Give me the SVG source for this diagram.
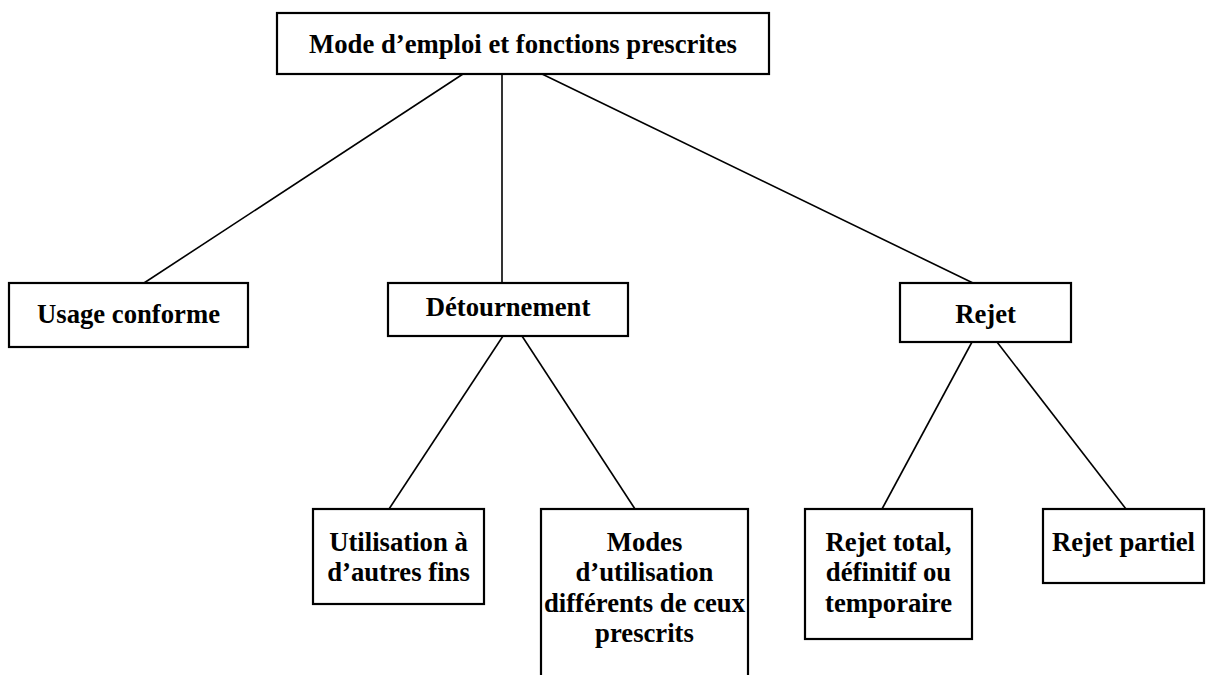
<svg xmlns="http://www.w3.org/2000/svg" width="1211" height="675" viewBox="0 0 1211 675">
<style>
.box{fill:#fff;stroke:#000;stroke-width:2.2}
.lbl{font-family:"Liberation Serif","Times New Roman",serif;font-weight:bold;font-size:26.7px;fill:#000;text-anchor:middle}
.conn line{stroke:#000;stroke-width:1.6}
</style>
<rect width="1211" height="675" fill="#fff"/>
<g class="conn" id="connectors">
<line x1="463" y1="74" x2="144" y2="283"/>
<line x1="502" y1="74" x2="502" y2="283"/>
<line x1="542" y1="74" x2="973" y2="283"/>
<line x1="503" y1="336" x2="389" y2="509"/>
<line x1="522" y1="336" x2="635" y2="509"/>
<line x1="972" y1="342" x2="882" y2="509"/>
<line x1="997" y1="342" x2="1126" y2="509"/>
</g>
<g id="root">
<rect class="box" x="277" y="13" width="492" height="61"/>
<text class="lbl" x="523" y="53">Mode d’emploi et fonctions prescrites</text>
</g>
<g id="usage">
<rect class="box" x="9" y="283" width="239" height="64"/>
<text class="lbl" x="128.5" y="323">Usage conforme</text>
</g>
<g id="detournement">
<rect class="box" x="388" y="283" width="240" height="53"/>
<text class="lbl" x="508" y="316">Détournement</text>
</g>
<g id="rejet">
<rect class="box" x="900" y="283" width="171" height="59"/>
<text class="lbl" x="985.5" y="323">Rejet</text>
</g>
<g id="utilisation">
<rect class="box" x="313" y="509" width="171" height="95"/>
<text class="lbl" x="398.5" y="551">Utilisation à</text>
<text class="lbl" x="398.5" y="581">d’autres fins</text>
</g>
<g id="modes">
<rect class="box" x="541" y="509" width="207" height="180"/>
<text class="lbl" x="644.5" y="551">Modes</text>
<text class="lbl" x="644.5" y="581">d’utilisation</text>
<text class="lbl" x="644.5" y="612">différents de ceux</text>
<text class="lbl" x="644.5" y="642">prescrits</text>
</g>
<g id="rejet-total">
<rect class="box" x="805" y="509" width="167" height="130"/>
<text class="lbl" x="888.5" y="551">Rejet total,</text>
<text class="lbl" x="888.5" y="581">définitif ou</text>
<text class="lbl" x="888.5" y="612">temporaire</text>
</g>
<g id="rejet-partiel">
<rect class="box" x="1043" y="509" width="161" height="74"/>
<text class="lbl" x="1123.5" y="551">Rejet partiel</text>
</g>
</svg>
